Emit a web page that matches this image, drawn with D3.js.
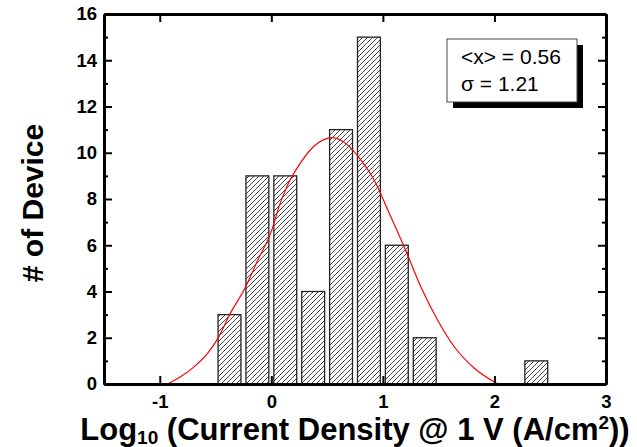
<!DOCTYPE html>
<html>
<head>
<meta charset="utf-8">
<script src="https://cdn.jsdelivr.net/npm/d3@7"></script>
<style>
body { margin: 0; background: #fff; }
text { font-family: Arial, "Liberation Sans", sans-serif; }
</style>
</head>
<body>
<svg id="chart" width="637" height="447"></svg>
<script>
// histogram bins (centre of bin, log10 J) and counts
var binCenters = [-0.375, -0.125, 0.125, 0.375, 0.625, 0.875, 1.125, 1.375, 2.375];
var binCounts = [3, 9, 9, 4, 11, 15, 6, 2, 1];
var binWidth = 0.25;

// gaussian fit
var fitX = [-0.93, -0.81, -0.69, -0.57, -0.47, -0.38, -0.23, -0.12, 0.0, 0.08, 0.14, 0.26, 0.38, 0.55, 0.68, 0.80, 0.92, 1.07, 1.19, 1.34, 1.49, 1.64, 1.82, 2.03];
var fitY = [0, 0.32, 0.75, 1.33, 2.05, 2.94, 4.21, 5.37, 6.6, 7.82, 8.54, 9.55, 10.27, 10.65, 10.35, 9.70, 8.83, 7.24, 5.94, 4.21, 2.77, 1.61, 0.68, 0];

var xTicks = [-1, 0, 1, 2, 3];
var yTicks = [0, 2, 4, 6, 8, 10, 12, 14, 16];
var yMinorTicks = [1, 3, 5, 7, 9, 11, 13, 15];
var statLines = ["<x> = 0.56", "\u03c3 = 1.21"];

var width = 637, height = 447;
var margin = {top: 14, right: 31, bottom: 63, left: 104};

var svg = d3.select("#chart");

var x = d3.scaleLinear().domain([-1.5, 3]).range([margin.left, width - margin.right]);
var y = d3.scaleLinear().domain([0, 16]).range([height - margin.bottom, margin.top]);

// plain hyphen for negatives, like the original
function plainNum(d) { return String(d); }

// hatch fill
var defs = svg.append("defs");
defs.append("pattern")
	.attr("id", "hatch")
	.attr("patternUnits", "userSpaceOnUse")
	.attr("width", 5)
	.attr("height", 5)
	.append("path")
	.attr("d", "M-1,1 l2,-2 M0,5 l5,-5 M4,6 l2,-2")
	.attr("stroke", "#333")
	.attr("stroke-width", 0.9);

// bars
var barFrac = 0.82;
svg.append("g").selectAll("rect")
	.data(binCenters)
	.enter().append("rect")
	.attr("x", function(d) { return x(d - binWidth * barFrac / 2); })
	.attr("width", function(d) { return x(d + binWidth * barFrac / 2) - x(d - binWidth * barFrac / 2); })
	.attr("y", function(d, i) { return y(binCounts[i]); })
	.attr("height", function(d, i) { return y(0) - y(binCounts[i]); })
	.attr("fill", "url(#hatch)")
	.attr("stroke", "#222")
	.attr("stroke-width", 1.3);

// fit curve
var line = d3.line()
	.x(function(d, i) { return x(fitX[i]); })
	.y(function(d, i) { return y(fitY[i]); })
	.curve(d3.curveMonotoneX);

svg.append("path")
	.datum(fitX)
	.attr("d", line)
	.attr("fill", "none")
	.attr("stroke", "#ff0000")
	.attr("stroke-width", 1.2);

// axes
function styleAxis(g) {
	g.select(".domain").attr("stroke", "#000").attr("stroke-width", 3);
	g.selectAll(".tick line").attr("stroke", "#000").attr("stroke-width", 2);
	g.selectAll(".tick text")
		.attr("fill", "#000")
		.style("font-size", "18.5px")
		.style("font-weight", "bold")
		.style("font-family", "Arial, 'Liberation Sans', sans-serif");
}

var bottomY = height - margin.bottom;
var rightX = width - margin.right;

svg.append("g")
	.attr("transform", "translate(0," + bottomY + ")")
	.call(d3.axisBottom(x).tickValues(xTicks).tickSizeInner(-8).tickSizeOuter(0).tickPadding(11).tickFormat(plainNum))
	.call(styleAxis);

svg.append("g")
	.attr("transform", "translate(0," + margin.top + ")")
	.call(d3.axisTop(x).tickValues(xTicks).tickSizeInner(-8).tickSizeOuter(0).tickFormat(""))
	.call(styleAxis);

svg.append("g")
	.attr("transform", "translate(" + margin.left + ",0)")
	.call(d3.axisLeft(y).tickValues(yTicks).tickSizeInner(-8).tickSizeOuter(0).tickPadding(7).tickFormat(plainNum))
	.call(styleAxis);

svg.append("g")
	.attr("transform", "translate(" + margin.left + ",0)")
	.call(d3.axisLeft(y).tickValues(yMinorTicks).tickSizeInner(-4).tickSizeOuter(0).tickFormat(""))
	.call(styleAxis);

svg.append("g")
	.attr("transform", "translate(" + rightX + ",0)")
	.call(d3.axisRight(y).tickValues(yTicks).tickSizeInner(-8).tickSizeOuter(0).tickFormat(""))
	.call(styleAxis);

svg.append("g")
	.attr("transform", "translate(" + rightX + ",0)")
	.call(d3.axisRight(y).tickValues(yMinorTicks).tickSizeInner(-4).tickSizeOuter(0).tickFormat(""))
	.call(styleAxis);

// axis titles
var xTitle = svg.append("text")
	.attr("x", (margin.left + rightX) / 2)
	.attr("y", 440)
	.attr("text-anchor", "middle")
	.style("font-size", "31px")
	.style("font-weight", "bold");
xTitle.append("tspan").text("Log");
xTitle.append("tspan").attr("dy", 4).style("font-size", "19px").text("10");
xTitle.append("tspan").attr("dy", -4).text(" (Current Density @ 1 V (A/cm");
xTitle.append("tspan").attr("dy", -11).style("font-size", "19px").text("2");
xTitle.append("tspan").attr("dy", 11).text("))");

svg.append("text")
	.attr("transform", "translate(43," + ((margin.top + bottomY) / 2 + 4) + ") rotate(-90)")
	.attr("text-anchor", "middle")
	.style("font-size", "30px")
	.style("font-weight", "bold")
	.text("# of Device");

// stats box with shadow
var box = {x: 447, y: 39, w: 130, h: 63};
svg.append("rect")
	.attr("x", box.x + 6).attr("y", box.y + 6)
	.attr("width", box.w).attr("height", box.h)
	.attr("fill", "#000");
svg.append("rect")
	.attr("x", box.x).attr("y", box.y)
	.attr("width", box.w).attr("height", box.h)
	.attr("fill", "#fff")
	.attr("stroke", "#444")
	.attr("stroke-width", 1);

svg.selectAll(".stat")
	.data(statLines)
	.enter().append("text")
	.attr("class", "stat")
	.attr("x", box.x + 14)
	.attr("y", function(d, i) { return box.y + 25 + i * 26.5; })
	.style("font-size", "21px")
	.text(function(d) { return d; });
</script>
</body>
</html>
